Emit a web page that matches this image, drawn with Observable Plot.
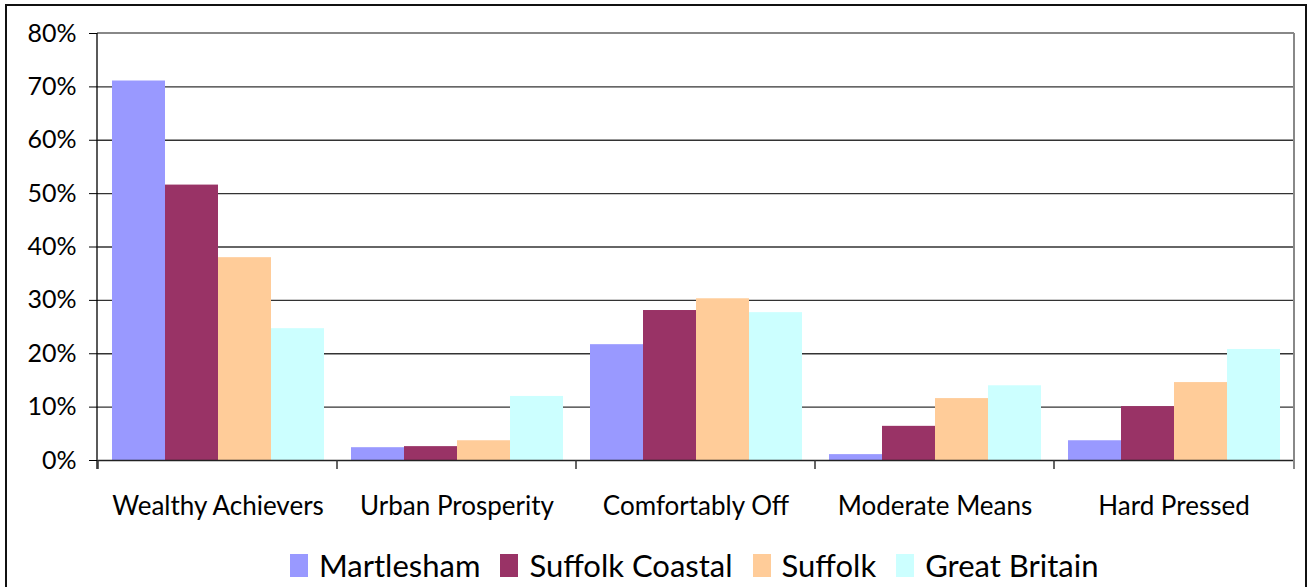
<!DOCTYPE html>
<html>
<head>
<meta charset="utf-8">
<script src="https://cdn.jsdelivr.net/npm/d3@7"></script>
<script src="https://cdn.jsdelivr.net/npm/@observablehq/plot@0.6"></script>
<style>
  html, body { margin: 0; padding: 0; background: #fff; }
  #wrap { position: relative; width: 1308px; height: 587px; overflow: hidden; font-family: Lato, "DejaVu Sans", sans-serif; }
  #border { position: absolute; left: 5px; top: 4px; width: 1302px; height: 640px; border: 2px solid #111; box-sizing: border-box; }
  #chart { position: absolute; left: 0; top: 0; }
  #legend { position: absolute; left: 290px; top: 546px; display: flex; align-items: center; font-size: 31px; color: #000; white-space: nowrap; }
  #legend .item { display: flex; align-items: center; margin-right: 20px; }
  #legend .sw { width: 18px; height: 23px; margin-right: 11px; }
</style>
</head>
<body>
<div id="wrap">
  <div id="border"></div>
  <div id="chart"></div>
  <div id="legend"></div>
</div>
<script>
const categories = ["Wealthy Achievers", "Urban Prosperity", "Comfortably Off", "Moderate Means", "Hard Pressed"];
const seriesNames = ["Martlesham", "Suffolk Coastal", "Suffolk", "Great Britain"];
const martlesham     = [0.711, 0.024, 0.217, 0.011, 0.037];
const suffolkCoastal = [0.516, 0.026, 0.281, 0.064, 0.101];
const suffolk        = [0.380, 0.037, 0.303, 0.116, 0.146];
const greatBritain   = [0.247, 0.120, 0.277, 0.140, 0.208];
const seriesColors = ["#9999FF", "#993366", "#FFCC99", "#CCFFFF"];
const yTicks = [0, 0.1, 0.2, 0.3, 0.4, 0.5, 0.6, 0.7, 0.8];

const seriesValues = [martlesham, suffolkCoastal, suffolk, greatBritain];
const data = [];
categories.forEach((c, i) => {
  seriesNames.forEach((s, j) => {
    data.push({category: c, series: s, value: seriesValues[j][i]});
  });
});

const plot = Plot.plot({
  width: 1308,
  height: 530,
  marginLeft: 97,
  marginRight: 14,
  marginTop: 33,
  marginBottom: 70,
  style: {fontFamily: "Lato, 'DejaVu Sans', sans-serif", fontSize: "25px", color: "#000", background: "transparent"},
  fx: {domain: categories, padding: 0, label: null, axis: null},
  x: {domain: seriesNames, paddingInner: 0, paddingOuter: 0.237, axis: null},
  y: {domain: [0, 0.8], label: null, axis: null},
  color: {domain: seriesNames, range: seriesColors},
  marks: [
    Plot.gridY(yTicks.filter(t => t > 0 && t < 0.8), {stroke: "#333", strokeOpacity: 1, strokeWidth: 1.3}),
    Plot.barY(data, {fx: "category", x: "series", y: "value", fill: "series"}),
    Plot.axisY(yTicks, {tickFormat: d3.format(".0%"), tickSize: 9, tickPadding: 13, fontSize: 25, stroke: "#000", label: null}),
    Plot.axisFx({anchor: "bottom", tickSize: 0, tickPadding: 36, fontSize: 26, label: null}),
    Plot.ruleY([0], {stroke: "#222", strokeWidth: 1.5})
  ]
});

document.getElementById("chart").appendChild(plot);

// axis line, category boundary ticks, and plot-area border derived from the plot's scales
const fx = plot.scale("fx");
const ys = plot.scale("y");
const svg = d3.select(plot);
const x0 = fx.range[0], x1 = fx.range[1];
const yTop = ys.apply(0.8), yBot = ys.apply(0);
const g = svg.append("g");
g.append("line").attr("x1", x0).attr("x2", x1).attr("y1", yTop).attr("y2", yTop).attr("stroke", "#888").attr("stroke-width", 2);
g.append("line").attr("x1", x1).attr("x2", x1).attr("y1", yTop).attr("y2", yBot + 9).attr("stroke", "#888").attr("stroke-width", 2);
g.append("line").attr("x1", x0).attr("x2", x0).attr("y1", yTop).attr("y2", yBot + 9).attr("stroke", "#000").attr("stroke-width", 1.3);
categories.forEach(c => {
  const xx = fx.apply(c);
  g.append("line").attr("x1", xx).attr("x2", xx).attr("y1", yBot).attr("y2", yBot + 9).attr("stroke", "#333").attr("stroke-width", 1.5);
});

const legend = d3.select("#legend");
seriesNames.forEach((s, i) => {
  const item = legend.append("div").attr("class", "item");
  item.append("div").attr("class", "sw").style("background", seriesColors[i]);
  item.append("span").text(s);
});
</script>
</body>
</html>
